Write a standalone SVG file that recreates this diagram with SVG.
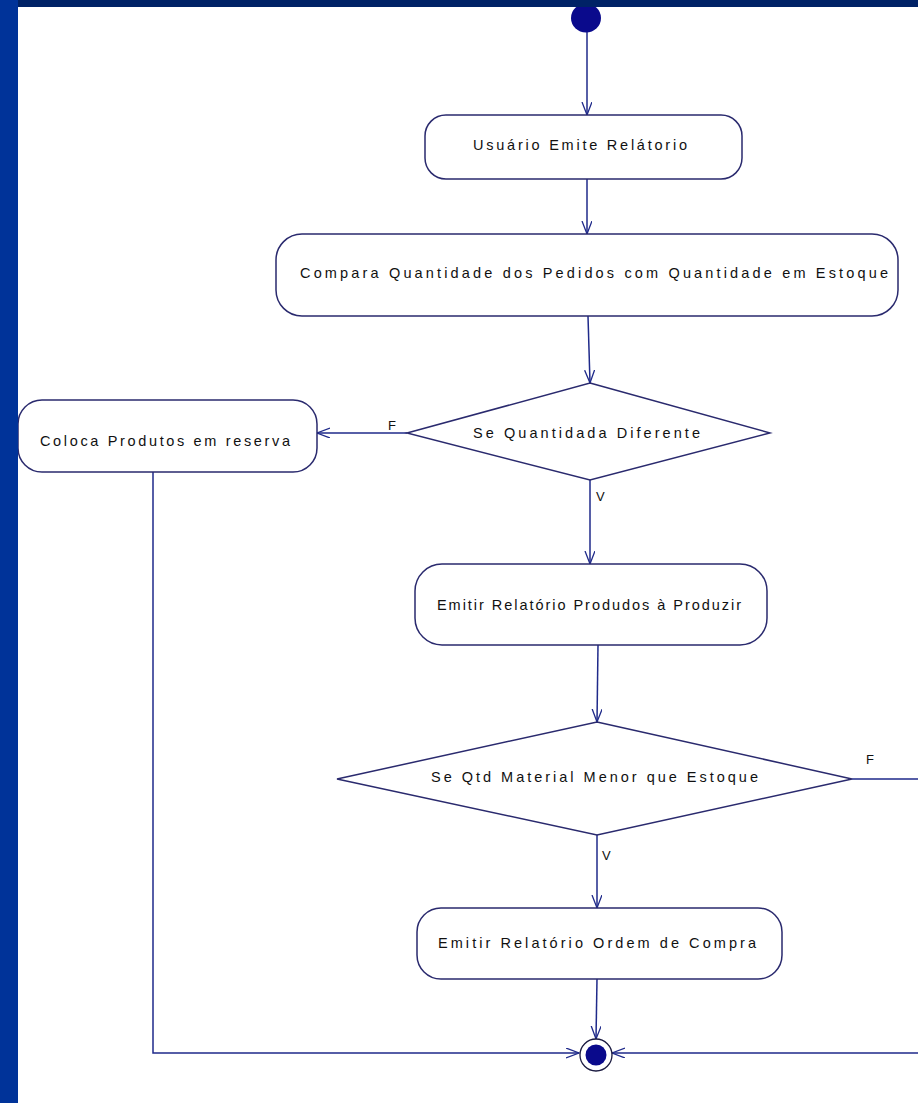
<svg xmlns="http://www.w3.org/2000/svg" width="918" height="1103" viewBox="0 0 918 1103">
<defs>
<marker id="arr" markerUnits="userSpaceOnUse" markerWidth="16" markerHeight="14" refX="13" refY="5" orient="auto">
<path d="M0,0 L13,5 L0,10" fill="none" stroke="#1f2a8a" stroke-width="1.3"/>
</marker>
<style>
.bg{fill:#ffffff}
.node{fill:#ffffff;stroke:#2a2a6e;stroke-width:1.5}
.conn{fill:none;stroke:#1f2a8a;stroke-width:1.5}
.t{font-family:"Liberation Sans",Arial,sans-serif;font-size:14.5px;fill:#111111}
.lbl{font-family:"Liberation Sans",Arial,sans-serif;font-size:13px;fill:#111111}
</style>
</defs>
<rect class="bg" x="0" y="0" width="918" height="1103"/>

<g id="connectors">
<line class="conn" x1="587" y1="32" x2="587" y2="115" marker-end="url(#arr)"/>
<line class="conn" x1="587" y1="179" x2="587" y2="234" marker-end="url(#arr)"/>
<line class="conn" x1="588" y1="316" x2="590" y2="383" marker-end="url(#arr)"/>
<line class="conn" x1="407" y1="433" x2="317" y2="433" marker-end="url(#arr)"/>
<line class="conn" x1="590" y1="480" x2="590" y2="564" marker-end="url(#arr)"/>
<line class="conn" x1="598" y1="645" x2="597" y2="722" marker-end="url(#arr)"/>
<polyline class="conn" points="852,779 930,779 930,1053 612,1053" marker-end="url(#arr)"/>
<line class="conn" x1="597" y1="835" x2="597" y2="908" marker-end="url(#arr)"/>
<line class="conn" x1="597" y1="979" x2="596" y2="1039" marker-end="url(#arr)"/>
<polyline class="conn" points="153,472 153,1053 579,1053" marker-end="url(#arr)"/>
<text class="lbl" x="388" y="430">F</text>
<text class="lbl" x="596" y="501">V</text>
<text class="lbl" x="866" y="764">F</text>
<text class="lbl" x="602" y="860">V</text>
</g>

<g id="start">
<ellipse cx="586" cy="18" rx="15" ry="14.5" fill="#0a0a8c"/>
</g>

<g id="n1">
<rect class="node" x="425" y="115" width="317" height="64" rx="21" ry="21"/>
<text class="t" x="473" y="150" textLength="214" lengthAdjust="spacing">Usuário Emite Relátorio</text>
</g>

<g id="n2">
<rect class="node" x="276" y="234" width="622" height="82" rx="26" ry="26"/>
<text class="t" x="300" y="278" textLength="588" lengthAdjust="spacing">Compara Quantidade dos Pedidos com Quantidade em Estoque</text>
</g>

<g id="d1">
<polygon class="node" points="590,383 770,433 590,480 407,433"/>
<text class="t" x="473" y="438" textLength="227" lengthAdjust="spacing">Se Quantidada Diferente</text>
</g>

<g id="n3">
<rect class="node" x="18" y="400" width="299" height="72" rx="24" ry="24"/>
<text class="t" x="40" y="446" textLength="250" lengthAdjust="spacing">Coloca Produtos em reserva</text>
</g>

<g id="n4">
<rect class="node" x="415" y="564" width="352" height="81" rx="27" ry="27"/>
<text class="t" x="437" y="610" textLength="304" lengthAdjust="spacing">Emitir Relatório Produdos à Produzir</text>
</g>

<g id="d2">
<polygon class="node" points="597,722 852,779 597,835 337,779"/>
<text class="t" x="431" y="782" textLength="327" lengthAdjust="spacing">Se Qtd Material Menor que Estoque</text>
</g>

<g id="n5">
<rect class="node" x="417" y="908" width="365" height="71" rx="24" ry="24"/>
<text class="t" x="438" y="948" textLength="318" lengthAdjust="spacing">Emitir Relatório Ordem de Compra</text>
</g>

<g id="end">
<circle cx="596" cy="1055" r="16" fill="#ffffff" stroke="#1a1a40" stroke-width="1.3"/>
<circle cx="596" cy="1055" r="10.5" fill="#0a0a8c"/>
</g>

<g id="frame">
<rect x="0" y="0" width="918" height="7" fill="#002266"/>
<rect x="0" y="0" width="18" height="1103" fill="#003399"/>
</g>
</svg>
